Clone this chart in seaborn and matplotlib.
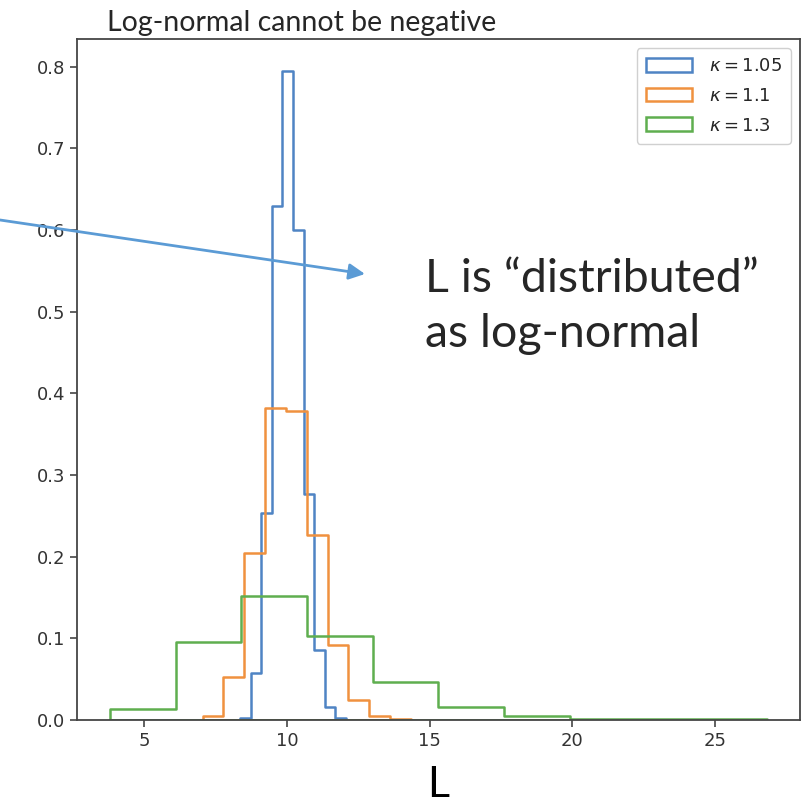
import numpy as np
import matplotlib
matplotlib.use("Agg")
import matplotlib.pyplot as plt
import seaborn as sns

# Series labels and line colours
kappa_labels = [r"$\kappa = 1.05$", r"$\kappa = 1.1$", r"$\kappa = 1.3$"]
line_colors = ["#4f84c4", "#f0913f", "#5fae4f"]

# First and last bin edge of each 10-bin histogram of L
range_105 = (8.37, 12.06)
range_11 = (7.05, 14.34)
range_13 = (3.80, 26.82)

# Normalised heights (density) of each bin
density_105 = [0.002, 0.057, 0.254, 0.629, 0.794, 0.600, 0.277, 0.086, 0.016, 0.003]
density_11 = [0.0055, 0.053, 0.204, 0.382, 0.378, 0.227, 0.092, 0.0245, 0.005, 0.0015]
density_13 = [0.013, 0.0956, 0.152, 0.103, 0.047, 0.0163, 0.005, 0.0018, 0.0010, 0.0008]

title_text = "Log-normal cannot be negative"
note_lines = ["L is \u201cdistributed\u201d", "as log-normal"]
x_label = "L"

sns.set_style("ticks")
plt.rcParams["font.family"] = "sans-serif"
plt.rcParams["font.sans-serif"] = ["DejaVu Sans"]
plt.rcParams["mathtext.fontset"] = "dejavusans"
plt.rcParams["axes.edgecolor"] = "#454545"
plt.rcParams["xtick.color"] = "#454545"
plt.rcParams["ytick.color"] = "#454545"
plt.rcParams["xtick.labelcolor"] = "#333333"
plt.rcParams["ytick.labelcolor"] = "#333333"

slide_font = ["Lato", "DejaVu Sans"]

W, H = 810, 810
fig = plt.figure(figsize=(W / 100, H / 100), dpi=100)
ax = fig.add_axes([77 / W, 1 - 720 / H, (800 - 77) / W, (720 - 39) / H])

ranges = [range_105, range_11, range_13]
densities = [density_105, density_11, density_13]
for (lo, hi), dens, lab, col in zip(ranges, densities, kappa_labels, line_colors):
    edges = np.linspace(lo, hi, len(dens) + 1)
    centers = 0.5 * (edges[:-1] + edges[1:])
    sns.histplot(x=centers, weights=dens, bins=edges.tolist(), stat="count",
                 element="step", fill=True, color=col, facecolor="none",
                 edgecolor=col, linewidth=1.8, label=lab, ax=ax)

# matplotlib-like 5% horizontal margin, bars sit on zero
all_lo = min(r[0] for r in ranges)
all_hi = max(r[1] for r in ranges)
span = all_hi - all_lo
ax.set_xlim(all_lo - 0.05 * span, all_hi + 0.05 * span)
ax.set_ylim(0, 1.05 * max(max(d) for d in densities))

ax.set_xticks([5, 10, 15, 20, 25])
ax.set_yticks(np.arange(0, 0.81, 0.1))
ax.yaxis.set_major_formatter(matplotlib.ticker.FormatStrFormatter("%.1f"))
ax.tick_params(labelsize=13, length=5, width=1.2)
for lbl in ax.get_xticklabels() + ax.get_yticklabels():
    lbl.set_fontfamily("DejaVu Sans")
for s in ax.spines.values():
    s.set_linewidth(1.3)
ax.set_ylabel("")
ax.set_xlabel(x_label, fontsize=31, family=slide_font,
              labelpad=12, color="black")

leg = ax.legend(loc="upper right", fontsize=13, handlelength=2.6,
                handleheight=0.8, borderpad=0.5, labelspacing=0.65,
                handletextpad=0.9, framealpha=1, edgecolor="#d0d0d0",
                prop={"family": "DejaVu Sans", "size": 13})

fig.text(107 / W, 1 - 31 / H, title_text, fontsize=20.5,
         family=slide_font, va="baseline", ha="left")

fig.text(425 / W, 1 - 292 / H, note_lines[0], fontsize=33.5,
         family=slide_font, va="baseline", ha="left")
fig.text(425 / W, 1 - 347 / H, note_lines[1], fontsize=33.5,
         family=slide_font, va="baseline", ha="left")

ax.annotate("", xy=(365, H - 274), xycoords="figure pixels",
            xytext=(0, H - 220), textcoords="figure pixels",
            arrowprops=dict(arrowstyle="-|>", color="#5b9bd5", lw=2,
                            mutation_scale=24, shrinkA=0, shrinkB=0),
            annotation_clip=False)

fig.savefig("out.png", dpi=100)
